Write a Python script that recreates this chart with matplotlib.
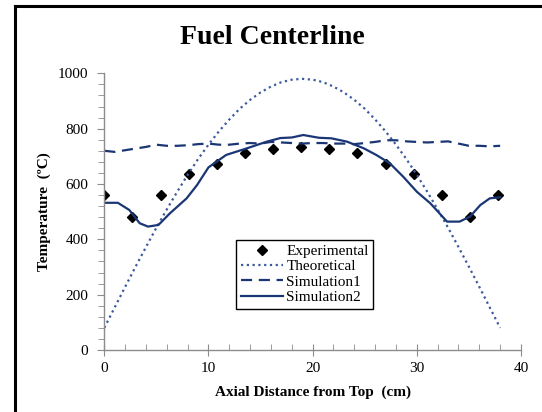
import matplotlib
matplotlib.use('Agg')
import matplotlib.pyplot as plt
from matplotlib.lines import Line2D

plt.rcParams['font.family'] = ['Liberation Serif', 'DejaVu Serif']

# experimental thermocouple readings
exp_x = [0, 2.7, 5.4, 8.1, 10.8, 13.5, 16.2, 18.9, 21.6, 24.3, 27.0, 29.7, 32.4, 35.1, 37.8]
exp_t = [560, 480, 560, 636, 672, 712, 728, 735, 728, 712, 672, 636, 560, 480, 560]

# theoretical profile, read every 1 cm
theo_x = list(range(0, 39))
theo_t = [80, 154, 228, 301, 372, 442, 508, 572, 633, 690, 742, 790, 833, 872, 904,
          931, 952, 968, 977, 980, 977, 968, 952, 931, 904, 872, 833, 790, 742, 690,
          633, 572, 508, 442, 372, 301, 228, 154, 80]

# simulation 1 (dashed)
sim1_x = list(range(0, 39))
sim1_t = [720, 716, 722, 728, 734, 742, 738, 738, 740, 744, 746, 742, 742, 746, 748,
          746, 752, 750, 748, 746, 748, 748, 746, 746, 744, 748, 752, 758, 758, 754,
          752, 750, 752, 754, 746, 738, 738, 736, 738]

# simulation 2 (solid)
sim2_x = [0, 1.3, 2.4, 3.4, 4.2, 5.2, 6.3, 7.9, 8.9, 10.0, 11.7, 13.7, 15.6, 16.9,
          18.0, 19.1, 20.6, 21.8, 23.3, 24.9, 26.1, 27.4, 28.7, 30.0, 31.3, 32.9,
          34.1, 35.1, 36.1, 37.0, 38.0]
sim2_t = [532, 532, 506, 458, 446, 452, 494, 548, 596, 660, 705, 729, 753, 766,
          768, 777, 767, 765, 753, 729, 705, 675, 626, 572, 530, 464,
          464, 482, 524, 548, 552]

navy = '#1b3675'
blue = '#3d5a9c'
grey = '#8c8c8c'

fig = plt.figure(figsize=(5.42, 4.12), dpi=100)
ax = fig.add_axes([104.3 / 542, 62 / 412, (521 - 104.3) / 542, (350 - 73.3) / 412])

ax.plot(exp_x, exp_t, linestyle='none', marker='D', ms=5.5, color='black', label='Experimental')
ax.plot(theo_x, theo_t, linestyle=(0, (1, 1.6)), lw=1.6, color=blue, label='Theoretical')
ax.plot(sim1_x, sim1_t, linestyle=(0, (5, 3)), lw=1.6, color=navy, label='Simulation1')
ax.plot(sim2_x, sim2_t, linestyle='-', lw=1.6, color=navy, label='Simulation2')

ax.set_xlim(0, 40)
ax.set_ylim(0, 1000)
ax.set_xticks(range(0, 41, 10))
ax.set_xticks(range(0, 41, 2), minor=True)
ax.set_yticks(range(0, 1001, 200))
ax.set_yticks(range(0, 1001, 40), minor=True)

for s in ['top', 'right']:
    ax.spines[s].set_visible(False)
for s in ['left', 'bottom']:
    ax.spines[s].set_color(grey)
    ax.spines[s].set_linewidth(1.0)

ax.tick_params(axis='x', which='major', direction='inout', length=9, color=grey, labelsize=11, pad=4)
ax.tick_params(axis='x', which='minor', direction='in', length=4, color=grey)
ax.tick_params(axis='y', which='major', direction='out', length=5, color=grey, labelsize=11, pad=6.5)
ax.tick_params(axis='y', which='minor', direction='out', length=4, color=grey)

ax.set_xlabel('Axial Distance from Top  (cm)', fontsize=11, fontweight='bold', labelpad=8)
ax.set_ylabel('Temperature  (\u00baC)', fontsize=11, fontweight='bold', labelpad=5)

fig.text(272 / 542, 1 - 37 / 412, 'Fuel Centerline', fontsize=20, fontweight='bold',
         ha='center', va='center')

leg = ax.legend(loc='upper left', bbox_to_anchor=(236 / 542, 1 - 240 / 412),
                bbox_transform=fig.transFigure, borderaxespad=0, fontsize=11,
                handlelength=2.8, handletextpad=0.2, labelspacing=0.1,
                borderpad=0.3, fancybox=False, framealpha=1, edgecolor='black')
leg.get_frame().set_linewidth(1.0)

# outer chart frame (only left and top edges are inside the picture)
fig.add_artist(Line2D([14.7 / 542, 14.7 / 542], [0, 1 - 5.5 / 412], transform=fig.transFigure,
                      color='black', lw=2.2))
fig.add_artist(Line2D([14.7 / 542, 1], [1 - 5.5 / 412, 1 - 5.5 / 412], transform=fig.transFigure,
                      color='black', lw=2.2))

fig.savefig('out.png', dpi=100)
